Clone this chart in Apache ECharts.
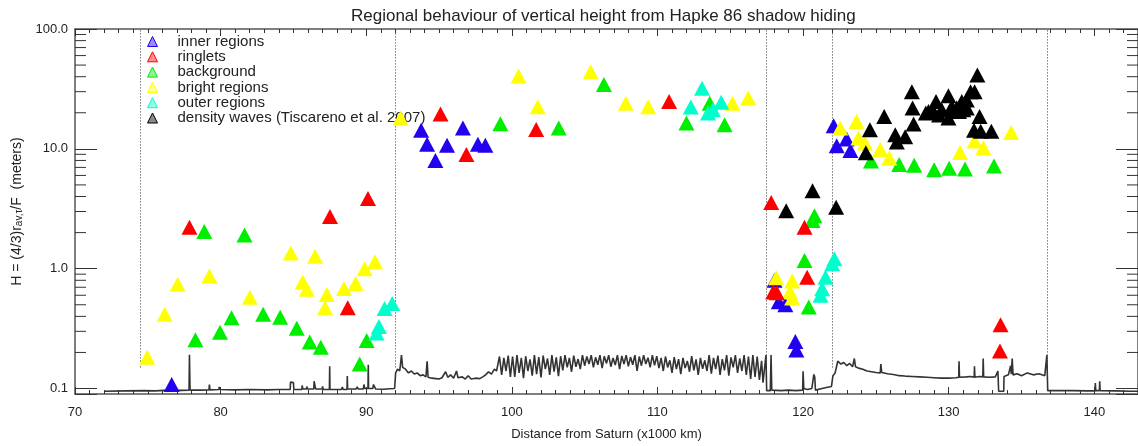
<!DOCTYPE html>
<html>
<head>
<meta charset="utf-8">
<script src="https://cdn.jsdelivr.net/npm/echarts@6/dist/echarts.min.js"></script>
<style>
  html, body { margin: 0; padding: 0; background: #fff; }
  #chart { width: 1138px; height: 446px; }
</style>
</head>
<body>
<div id="chart"></div>
<script>
// ---- data ----
var xMin = 70, xMax = 143;
var yMin = 0.09, yMax = 100;
var xTicks = [70, 80, 90, 100, 110, 120, 130, 140];
var yMinorTicks = [0.2, 0.3, 0.4, 0.5, 0.6, 0.7, 0.8, 0.9,
  2, 3, 4, 5, 6, 7, 8, 9, 20, 30, 40, 50, 60, 70, 80, 90];
var boundaries = [74.5, 92.0, 117.5, 122.0, 136.8];

var categories = ['inner regions', 'ringlets', 'background', 'bright regions',
  'outer regions', 'density waves (Tiscareno et al. 2007)'];

var innerRegions = [
  [76.64, 0.108],
  [93.77, 14.3], [94.18, 10.9], [94.75, 8.0], [95.55, 10.7], [96.64, 14.9], [97.67, 10.9], [98.18, 10.7],
  [118.04, 0.80], [118.33, 0.53], [118.78, 0.50], [119.47, 0.247], [119.54, 0.21],
  [122.1, 15.6], [122.31, 10.6], [122.99, 12.1], [123.25, 9.7]
];
var ringlets = [
  [77.86, 2.22], [87.51, 2.73], [88.73, 0.472], [90.12, 3.85],
  [95.10, 19.5], [96.88, 8.97], [101.67, 14.5], [110.8, 24.8],
  [117.81, 3.57], [117.95, 0.64], [118.2, 0.63], [120.1, 2.22], [120.28, 0.85],
  [133.56, 0.34], [133.52, 0.206]
];
var background = [
  [78.27, 0.255], [78.88, 2.04], [79.96, 0.295], [80.75, 0.39], [81.64, 1.91], [82.92, 0.416],
  [84.09, 0.393], [85.23, 0.318], [86.12, 0.244], [86.88, 0.221], [89.55, 0.160], [90.03, 0.252],
  [99.21, 16.2], [103.22, 14.9], [106.32, 34.5], [111.99, 16.4], [113.59, 24.0], [114.61, 15.9],
  [120.1, 1.17], [120.39, 0.48], [120.66, 2.52], [120.78, 2.77],
  [124.66, 7.9], [126.6, 7.4], [127.63, 7.3], [129.0, 6.7], [130.03, 6.9], [131.12, 6.8], [133.11, 7.2]
];
var brightRegions = [
  [74.96, 0.182], [76.16, 0.416], [77.05, 0.741], [79.23, 0.87], [82.01, 0.578], [84.82, 1.35],
  [85.64, 0.776], [85.92, 0.674], [86.49, 1.27], [87.29, 0.609], [87.17, 0.472], [88.47, 0.683],
  [89.27, 0.751], [89.89, 1.0], [90.6, 1.14],
  [92.36, 18.1], [100.46, 40.5], [101.78, 22.5], [105.41, 44.0], [107.83, 24.0], [109.36, 22.5],
  [115.15, 24.0], [116.23, 26.5],
  [118.15, 0.84], [119.25, 0.79], [119.1, 0.64], [119.25, 0.57],
  [122.55, 14.9], [123.67, 16.9], [123.8, 12.3], [124.25, 11.2], [125.3, 9.87], [125.92, 8.4],
  [130.78, 9.3], [131.78, 11.6], [132.38, 10.2], [134.29, 13.7]
];
var outerRegions = [
  [90.71, 0.29], [90.87, 0.329], [91.26, 0.466], [91.78, 0.513],
  [112.29, 22.3], [113.06, 32.0], [113.47, 19.9], [113.81, 21.2], [114.38, 24.5],
  [121.2, 0.60], [121.31, 0.68], [121.54, 0.85], [122.0, 1.10], [122.15, 1.21]
];
var densityWaves = [
  [118.84, 3.04], [120.65, 4.46], [122.27, 3.25],
  [124.31, 9.28], [124.59, 14.4], [125.57, 18.6], [126.33, 13.1], [126.44, 11.4], [127.01, 12.6],
  [127.47, 30.0], [127.52, 21.9], [127.59, 16.1], [128.43, 19.9], [128.61, 20.5], [128.95, 20.5],
  [129.13, 24.8], [129.34, 19.2], [129.52, 21.2], [129.98, 27.7], [129.98, 18.1], [130.21, 22.5],
  [130.5, 20.5], [130.55, 21.9], [130.71, 20.5], [130.9, 24.8], [131.0, 21.2], [131.24, 25.6],
  [131.24, 21.9], [131.5, 30.0], [131.78, 30.0], [131.97, 41.3], [132.12, 18.6], [131.74, 14.3],
  [132.2, 14.0], [132.93, 14.0]
];

// optical depth style profile drawn along the bottom (radius, value)
var profile = [
  [71.99, 0.095], [73.5, 0.0955], [74.8, 0.096], [75.5, 0.0955], [76.5, 0.097], [77.3, 0.0965],
  [77.83, 0.097], [77.86, 0.191], [77.9, 0.097], [78.6, 0.097], [79.2, 0.0975], [79.23, 0.108],
  [79.27, 0.0975], [79.88, 0.098], [79.91, 0.103], [79.95, 0.098], [81.0, 0.0975], [81.95, 0.098],
  [81.97, 0.1], [82.0, 0.098], [83.2, 0.0975], [84.0, 0.098], [84.78, 0.098], [84.8, 0.113],
  [85.0, 0.112], [85.03, 0.098], [85.58, 0.098], [85.6, 0.106], [85.65, 0.099], [85.9, 0.099],
  [85.92, 0.104], [85.96, 0.099], [86.4, 0.099], [86.42, 0.115], [86.5, 0.114], [86.53, 0.099],
  [86.97, 0.099], [87.0, 0.104], [87.05, 0.098], [87.47, 0.098], [87.49, 0.153], [87.51, 0.098],
  [88.3, 0.098], [88.36, 0.103], [88.42, 0.098], [88.68, 0.098], [88.7, 0.127], [88.72, 0.099],
  [89.3, 0.099], [89.38, 0.103], [89.45, 0.099], [89.8, 0.099], [89.84, 0.108], [89.9, 0.1],
  [90.12, 0.1], [90.14, 0.158], [90.16, 0.1], [90.45, 0.1], [90.5, 0.108], [90.6, 0.107],
  [90.65, 0.099], [91.2, 0.0985], [91.6, 0.0995], [91.95, 0.1],
  [92.02, 0.135], [92.15, 0.145], [92.3, 0.14], [92.42, 0.19], [92.5, 0.15], [92.7, 0.145],
  [92.9, 0.135], [93.1, 0.14], [93.3, 0.132], [93.5, 0.135], [93.7, 0.128], [93.9, 0.13],
  [94.1, 0.125], [94.18, 0.169], [94.25, 0.124], [94.5, 0.122], [94.8, 0.121], [95.0, 0.12],
  [95.2, 0.123], [95.45, 0.138], [95.6, 0.124], [95.8, 0.13], [96.0, 0.122], [96.2, 0.14],
  [96.3, 0.123], [96.6, 0.125], [96.8, 0.12], [97.0, 0.128], [97.2, 0.12], [97.5, 0.122],
  [97.8, 0.121], [98.0, 0.125], [98.2, 0.13], [98.4, 0.138], [98.6, 0.132], [98.8, 0.145],
  [98.95, 0.14],
  [99.00, 0.15], [99.15, 0.185], [99.30, 0.13], [99.45, 0.18], [99.60, 0.14], [99.75, 0.188],
  [99.90, 0.125], [100.05, 0.185], [100.20, 0.125], [100.35, 0.19], [100.50, 0.135], [100.65, 0.18],
  [100.80, 0.122], [100.95, 0.186], [101.10, 0.14], [101.25, 0.175], [101.40, 0.128], [101.55, 0.19],
  [101.70, 0.132], [101.85, 0.183], [102.00, 0.124], [102.15, 0.188], [102.30, 0.145], [102.45, 0.178],
  [102.60, 0.13], [102.75, 0.19], [102.90, 0.138], [103.05, 0.182], [103.20, 0.127], [103.35, 0.186],
  [103.50, 0.142], [103.65, 0.19], [103.80, 0.15], [103.95, 0.18], [104.10, 0.138], [104.25, 0.188],
  [104.40, 0.152], [104.55, 0.176], [104.70, 0.145], [104.85, 0.19], [105.00, 0.155], [105.15, 0.185],
  [105.30, 0.16], [105.45, 0.19], [105.60, 0.15], [105.75, 0.182], [105.90, 0.158], [106.05, 0.19],
  [106.20, 0.148], [106.35, 0.186], [106.50, 0.162], [106.65, 0.19], [106.80, 0.152], [106.95, 0.18],
  [107.10, 0.157], [107.25, 0.19], [107.40, 0.145], [107.55, 0.187], [107.70, 0.16], [107.85, 0.19],
  [108.00, 0.153], [108.15, 0.183], [108.30, 0.158], [108.45, 0.19], [108.60, 0.14], [108.75, 0.185],
  [108.90, 0.155], [109.05, 0.19], [109.20, 0.16], [109.35, 0.181], [109.50, 0.15], [109.65, 0.19],
  [109.80, 0.156], [109.95, 0.186], [110.10, 0.148], [110.25, 0.18], [110.40, 0.14], [110.55, 0.185],
  [110.70, 0.15], [110.85, 0.172], [111.00, 0.135], [111.15, 0.183], [111.30, 0.145], [111.45, 0.176],
  [111.60, 0.132], [111.75, 0.18], [111.90, 0.148], [112.05, 0.17], [112.20, 0.138], [112.35, 0.186],
  [112.50, 0.142], [112.65, 0.175], [112.80, 0.13], [112.95, 0.18], [113.10, 0.146], [113.25, 0.172],
  [113.40, 0.14], [113.55, 0.19], [113.70, 0.133], [113.85, 0.18], [114.00, 0.145], [114.15, 0.188],
  [114.30, 0.13], [114.45, 0.176], [114.60, 0.142], [114.75, 0.19], [114.90, 0.128], [115.05, 0.182],
  [115.20, 0.15], [115.35, 0.19], [115.50, 0.135], [115.65, 0.178], [115.80, 0.14], [115.95, 0.19],
  [116.10, 0.13], [116.25, 0.185], [116.40, 0.12], [116.55, 0.19], [116.70, 0.125], [116.85, 0.185],
  [117.00, 0.118], [117.15, 0.17], [117.25, 0.112],
  [117.38, 0.115], [117.45, 0.19], [117.5, 0.096], [117.75, 0.096], [117.8, 0.19], [117.85, 0.097],
  [118.5, 0.096], [119.0, 0.097], [119.5, 0.096], [119.97, 0.097], [120.0, 0.139], [120.05, 0.1],
  [120.3, 0.098], [120.6, 0.1], [120.74, 0.131], [120.8, 0.125], [120.85, 0.097], [121.3, 0.1],
  [121.6, 0.102], [121.95, 0.104], [122.05, 0.128], [122.2, 0.135], [122.38, 0.169], [122.6, 0.16],
  [122.8, 0.165], [123.0, 0.155], [123.2, 0.162], [123.4, 0.152], [123.52, 0.178], [123.6, 0.152],
  [123.8, 0.148], [124.1, 0.145], [124.4, 0.14], [124.7, 0.138], [125.0, 0.136], [125.3, 0.135],
  [125.34, 0.16], [125.4, 0.136], [125.8, 0.133], [126.2, 0.131], [126.6, 0.128], [127.0, 0.127],
  [127.5, 0.126], [128.0, 0.125], [128.5, 0.124], [129.0, 0.123], [129.5, 0.122], [130.0, 0.122],
  [130.5, 0.123], [130.69, 0.124], [130.71, 0.169], [130.74, 0.124], [131.2, 0.125], [131.5, 0.126],
  [131.75, 0.124], [131.77, 0.153], [131.8, 0.124], [132.1, 0.126], [132.34, 0.125], [132.37, 0.178],
  [132.4, 0.125], [132.8, 0.124], [133.2, 0.125], [133.38, 0.14], [133.43, 0.095], [133.78, 0.095],
  [133.8, 0.126], [134.1, 0.13], [134.25, 0.155], [134.3, 0.132], [134.36, 0.178], [134.42, 0.13],
  [134.7, 0.133], [135.0, 0.128], [135.4, 0.135], [135.8, 0.13], [136.2, 0.133], [136.6, 0.128],
  [136.74, 0.19], [136.8, 0.096], [137.5, 0.096], [138.5, 0.096], [139.5, 0.0955], [140.05, 0.0955],
  [140.07, 0.111], [140.1, 0.096], [140.35, 0.096], [140.37, 0.115], [140.4, 0.096], [141.5, 0.0955],
  [142.5, 0.095], [143, 0.095]
];

// ---- styles ----
var FONT = '"Liberation Sans", Arial, Helvetica, sans-serif';
var colors = ['#2200f0', '#ff0000', '#00ee00', '#ffff00', '#00ffcc', '#000000'];
var lightColors = ['#9a8cf8', '#ff8f8f', '#8ff78f', '#ffff90', '#90ffe6', '#8a8a8a'];
var seriesData = [innerRegions, ringlets, background, brightRegions, outerRegions, densityWaves];
var drawOrder = [0, 2, 3, 1, 4, 5];

var dom = document.getElementById('chart');
var myChart = echarts.init(dom, null, { renderer: 'canvas' });

function decadeLabel(v) {
  var l = Math.log10(v);
  if (Math.abs(l - Math.round(l)) > 1e-6) return '';
  return Math.pow(10, Math.round(l)).toFixed(1);
}

var axisLineStyle = { color: '#555', width: 1.5 };
var tickStyle = { color: '#333', width: 1 };

var series = [];
series.push({
  name: 'profile',
  type: 'line',
  data: profile,
  showSymbol: false,
  silent: true,
  lineStyle: { color: '#333', width: 1.6 },
  z: 1,
  markLine: {
    silent: true,
    symbol: 'none',
    label: { show: false },
    lineStyle: { color: '#333', type: [1, 2], width: 1 },
    data: boundaries.map(function (b) {
      return [{ coord: [b, 0.15] }, { coord: [b, yMax] }];
    })
  }
});

// minor log ticks on both vertical axes
series.push({
  type: 'custom',
  silent: true,
  clip: false,
  z: 3,
  data: yMinorTicks.map(function (v) { return [xMin, v]; }),
  renderItem: function (params, api) {
    var v = api.value(1);
    var l = api.coord([xMin, v]);
    var r = api.coord([xMax, v]);
    return {
      type: 'group',
      children: [
        { type: 'line', shape: { x1: l[0], y1: l[1], x2: l[0] + 11, y2: l[1] }, style: { stroke: '#333', lineWidth: 1 } },
        { type: 'line', shape: { x1: r[0] - 11, y1: r[1], x2: r[0], y2: r[1] }, style: { stroke: '#333', lineWidth: 1 } }
      ]
    };
  }
});

drawOrder.forEach(function (i) {
  series.push({
    name: categories[i],
    type: 'scatter',
    data: seriesData[i],
    symbol: 'triangle',
    symbolSize: [16, 15],
    itemStyle: { color: colors[i], opacity: 1 },
    z: 5
  });
});

var option = {
  animation: false,
  backgroundColor: '#fff',
  textStyle: { fontFamily: FONT },
  title: {
    text: 'Regional behaviour of vertical height from Hapke 86 shadow hiding',
    left: 346,
    top: 3,
    textStyle: { fontSize: 17, fontWeight: 'normal', color: '#222', fontFamily: FONT }
  },
  legend: {
    orient: 'vertical',
    left: 142,
    top: 23,
    itemWidth: 10,
    itemHeight: 10,
    itemGap: -11.7,
    selectedMode: false,
    textStyle: { fontSize: 15, color: '#222', lineHeight: 15, padding: [12, 0, 0, 15], fontFamily: FONT },
    data: categories.map(function (n, i) {
      return {
        name: n,
        icon: 'triangle',
        itemStyle: { color: lightColors[i], borderColor: colors[i], borderWidth: 1 }
      };
    })
  },
  grid: { left: 75, right: -3, top: 29, bottom: 50, containLabel: false },
  xAxis: [
    {
      type: 'value', position: 'bottom', min: xMin, max: xMax, interval: 10,
      name: 'Distance from Saturn (x1000 km)', nameLocation: 'middle', nameGap: 34,
      nameTextStyle: { fontSize: 13, color: '#222', fontFamily: FONT },
      axisLine: { show: true, lineStyle: axisLineStyle },
      axisTick: { inside: true, length: 7, lineStyle: tickStyle },
      axisLabel: {
        fontSize: 13, color: '#222', margin: 12, showMaxLabel: false, fontFamily: FONT,
        formatter: function (v) { return xTicks.indexOf(v) >= 0 ? String(v) : ''; }
      },
      splitLine: { show: false }
    },
    {
      type: 'value', position: 'bottom', min: xMin, max: xMax, interval: 1,
      axisLine: { show: false },
      axisTick: { inside: true, length: 4, lineStyle: tickStyle },
      axisLabel: { show: false },
      splitLine: { show: false }
    },
    {
      type: 'value', position: 'top', min: xMin, max: xMax, interval: 10,
      axisLine: { show: true, lineStyle: axisLineStyle },
      axisTick: { inside: true, length: 7, lineStyle: tickStyle },
      axisLabel: { show: false },
      splitLine: { show: false }
    },
    {
      type: 'value', position: 'top', min: xMin, max: xMax, interval: 1,
      axisLine: { show: false },
      axisTick: { inside: true, length: 4, lineStyle: tickStyle },
      axisLabel: { show: false },
      splitLine: { show: false }
    }
  ],
  yAxis: [
    {
      type: 'log', logBase: 10, position: 'left', min: yMin, max: yMax,
      name: 'H = (4/3)r{sub|av,τ}/F  (meters)', nameLocation: 'middle', nameGap: 51, nameRotate: 90,
      nameTextStyle: {
        fontSize: 14, color: '#222', fontFamily: FONT,
        rich: { sub: { fontSize: 10, verticalAlign: 'bottom', color: '#222', fontFamily: FONT } }
      },
      axisLine: { show: true, lineStyle: axisLineStyle },
      axisTick: { inside: true, length: 22, lineStyle: tickStyle },
      axisLabel: { fontSize: 13, color: '#222', margin: 7, formatter: decadeLabel, fontFamily: FONT },
      splitLine: { show: false },
      minorTick: { show: false }
    },
    {
      type: 'log', logBase: 10, position: 'right', min: yMin, max: yMax,
      axisLine: { show: true, lineStyle: axisLineStyle },
      axisTick: { inside: true, length: 22, lineStyle: tickStyle },
      axisLabel: { show: false },
      splitLine: { show: false }
    }
  ],
  series: series
};

myChart.setOption(option);
window.addEventListener('resize', myChart.resize);
</script>
</body>
</html>
